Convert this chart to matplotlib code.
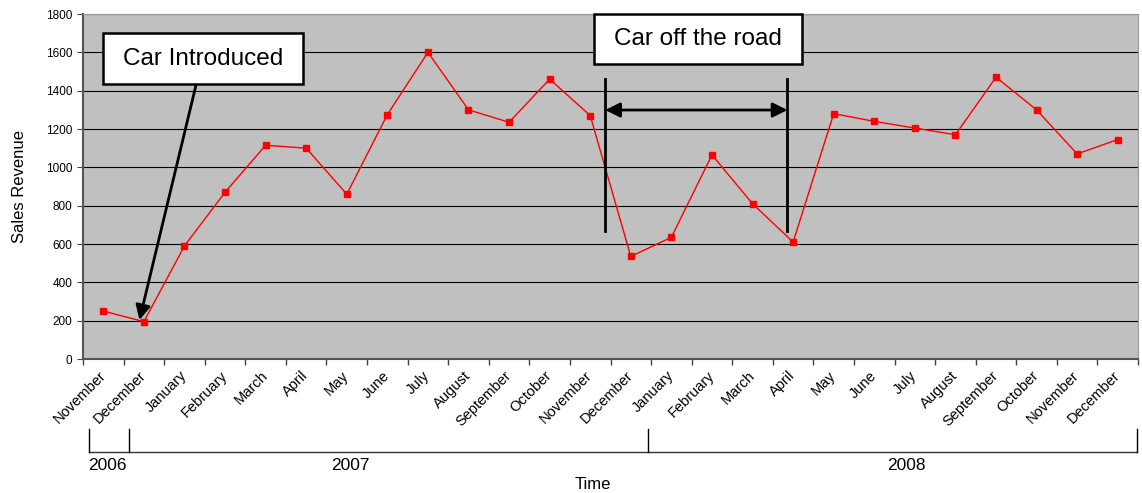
import matplotlib.pyplot as plt
from matplotlib.patches import Rectangle
import matplotlib.transforms as mtransforms

plt.rcParams['font.family'] = ['Liberation Sans', 'DejaVu Sans']

# monthly sales, Nov 2006 - Dec 2008
months = ["November", "December",
          "January", "February", "March", "April", "May", "June", "July",
          "August", "September", "October", "November", "December",
          "January", "February", "March", "April", "May", "June", "July",
          "August", "September", "October", "November", "December"]
revenue = [250, 195, 590, 870, 1115, 1100, 860, 1275, 1600, 1300, 1235, 1460,
           1270, 535, 635, 1065, 810, 610, 1280, 1240, 1205, 1170, 1470, 1300,
           1070, 1145]
years = ["2006", "2007", "2008"]
year_edges = [-0.35, 0.64, 13.43, 25.48]   # bracket positions under the axis
year_label_x = [0.1, 6.1, 19.8]

fig = plt.figure(figsize=(11.42, 4.93), dpi=100)
ax = fig.add_axes([0.0727, 0.2718, 0.9238, 0.6998])
ax.set_facecolor('#c0c0c0')

x = list(range(len(months)))
ax.plot(x, revenue, color='red', lw=1, marker='s', ms=4.5, zorder=3)

ax.set_xlim(-0.5, len(months) - 0.5)
ax.set_ylim(0, 1800)
ax.set_yticks(range(0, 1801, 200))
ax.yaxis.grid(True, color='black', lw=0.8)
ax.set_axisbelow(True)

ax.set_xticks(x)
ax.set_xticklabels(months, rotation=45, ha='right', rotation_mode='anchor', fontsize=10.5)
ax.tick_params(axis='x', which='major', length=0, pad=7)
shift = mtransforms.ScaledTranslation(-5 / 100, 0, fig.dpi_scale_trans)
for lab in ax.get_xticklabels():
    lab.set_transform(lab.get_transform() + shift)
ax.set_xticks([i - 0.5 for i in range(len(months) + 1)], minor=True)
ax.tick_params(axis='x', which='minor', length=4, color='#444444', width=1)
ax.tick_params(axis='y', length=4, color='#444444', labelsize=8.5)

for s in ['left', 'bottom']:
    ax.spines[s].set_color('#555555')
    ax.spines[s].set_linewidth(1.5)
for s in ['top', 'right']:
    ax.spines[s].set_color('#999999')
    ax.spines[s].set_linewidth(0.8)

ax.set_ylabel("Sales Revenue", fontsize=12, labelpad=14)

# year brackets below the month labels
trans = mtransforms.blended_transform_factory(ax.transData, ax.transAxes)
ax.plot([year_edges[0], year_edges[-1]], [-0.27, -0.27], color='#333333', lw=1,
        transform=trans, clip_on=False)
for xe in year_edges:
    ax.plot([xe, xe], [-0.203, -0.27], color='black', lw=1,
            transform=trans, clip_on=False)
for lab, xl in zip(years, year_label_x):
    ax.text(xl, -0.31, lab, transform=trans, ha='center', va='center', fontsize=12.5)
fig.text(0.519, 0.018, "Time", ha='center', va='center', fontsize=12)

# "Car Introduced" callout
ax.add_patch(Rectangle((0.019, 0.797), 0.1896, 0.148, transform=ax.transAxes,
                       facecolor='white', edgecolor='black', lw=1.8, zorder=5))
ax.text(0.019 + 0.0948, 0.871, "Car Introduced", transform=ax.transAxes,
        ha='center', va='center', fontsize=17.5, zorder=6)
ax.annotate("", xy=(0.89, 203), xytext=(2.29, 1434),
            arrowprops=dict(arrowstyle='-|>', color='black', lw=2,
                            mutation_scale=22, shrinkA=0, shrinkB=0), zorder=4)

# "Car off the road" callout
ax.add_patch(Rectangle((0.4844, 0.855), 0.197, 0.145, transform=ax.transAxes,
                       facecolor='white', edgecolor='black', lw=1.8, zorder=5,
                       clip_on=False))
ax.text(0.4844 + 0.0985, 0.928, "Car off the road", transform=ax.transAxes,
        ha='center', va='center', fontsize=17.5, zorder=6)
for xv in [12.37, 16.86]:
    ax.plot([xv, xv], [668, 1461], color='black', lw=2, zorder=4)
ax.annotate("", xy=(16.86, 1299), xytext=(12.37, 1299),
            arrowprops=dict(arrowstyle='<|-|>', color='black', lw=2,
                            mutation_scale=22, shrinkA=0, shrinkB=0), zorder=4)

fig.savefig("out.png", dpi=100)
